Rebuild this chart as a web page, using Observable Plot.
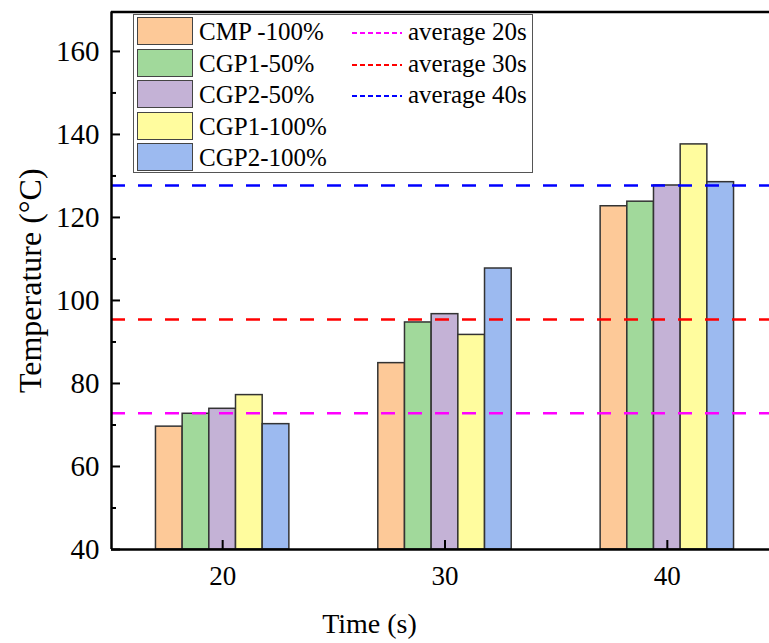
<!DOCTYPE html>
<html><head><meta charset="utf-8">
<script src="https://cdn.jsdelivr.net/npm/d3@7"></script>
<script src="https://cdn.jsdelivr.net/npm/@observablehq/plot@0.6"></script>
<style>
body{margin:0;background:#fff;overflow:hidden;}
#wrap{position:relative;width:769px;height:643px;font-family:Liberation Serif, Times New Roman, serif;}
#legend{position:absolute;left:133px;top:14px;width:400px;height:159px;border:1.5px solid #555;background:#fff;box-sizing:border-box;}
.lg{position:absolute;font-family:Liberation Serif, Times New Roman, serif;font-size:25px;line-height:28px;color:#000;white-space:nowrap;}
.sw{position:absolute;width:56px;height:28px;border:1.5px solid #444;box-sizing:border-box;}
</style>
</head><body>
<div id="wrap"><div id="chart"></div><div id="legend"></div></div>
<script>
const times = [20, 30, 40];
const seriesNames = ["CMP -100%", "CGP1-50%", "CGP2-50%", "CGP1-100%", "CGP2-100%"];
const seriesColors = ["#FDC998", "#A1D99B", "#C4B2D6", "#FFFC9E", "#9CBAF0"];
const cmp100 = [69.6, 84.9, 122.7];
const cgp1_50 = [72.7, 94.7, 123.8];
const cgp2_50 = [73.9, 96.7, 127.7];
const cgp1_100 = [77.2, 91.7, 137.6];
const cgp2_100 = [70.2, 107.7, 128.5];
const averageNames = ["average 20s", "average 30s", "average 40s"];
const averageValues = [72.8, 95.4, 127.7];
const averageColors = ["#FF00FF", "#FF0000", "#0000FF"];
const yMajorTicks = [40, 60, 80, 100, 120, 140, 160];
const yMinorTicks = [50, 70, 90, 110, 130, 150];
const xTicks = [20, 30, 40];
const xDomain = [15, 45];
const yDomain = [40, 169.5];
const xTitle = ["Time (s)"];
const yTitle = ["Temperature (°C)"];

const seriesValues = [cmp100, cgp1_50, cgp2_50, cgp1_100, cgp2_100];
const barWidth = 1.2;
const bars = [];
times.forEach((t, ti) => {
  seriesValues.forEach((vals, si) => {
    bars.push({time: t, series: seriesNames[si], color: seriesColors[si], value: vals[ti], idx: si});
  });
});
const avgs = averageValues.map((v, i) => ({value: v, color: averageColors[i], name: averageNames[i]}));

const font = "Liberation Serif, Times New Roman, serif";
const chart = Plot.plot({
  width: 769, height: 643,
  marginLeft: 111, marginRight: 0, marginTop: 11.5, marginBottom: 94,
  style: {fontFamily: font, background: "#fff", color: "#000"},
  x: {type: "linear", domain: xDomain, range: [111, 778]},
  y: {domain: yDomain},
  marks: [
    Plot.rectY(bars, {
      x1: d => d.time + (d.idx - 2.5) * barWidth,
      x2: d => d.time + (d.idx - 1.5) * barWidth,
      y1: yDomain[0], y2: "value",
      fill: d => d.color, stroke: "#333", strokeWidth: 1.5
    }),
    Plot.ruleY(avgs, {y: "value", stroke: d => d.color, strokeWidth: 2.5, strokeDasharray: "14,13"}),
    Plot.ruleX([xDomain[0]], {stroke: "#000", strokeWidth: 2.5}),
    Plot.ruleY(yDomain, {stroke: "#000", strokeWidth: 2.5}),
    Plot.axisY({ticks: yMajorTicks, tickSize: 0, tickPadding: 12, fontSize: 29, fontFamily: font, fill: "#000", label: null, tickFormat: d => String(d)}),
    Plot.axisY({ticks: yMajorTicks, tickSize: -9, text: null, strokeWidth: 2, label: null}),
    Plot.axisY({ticks: yMinorTicks, tickSize: -5, text: null, strokeWidth: 2, label: null}),
    Plot.axisX({ticks: xTicks, tickSize: 0, tickPadding: 16, fontSize: 27, fontFamily: font, fill: "#000", label: null, tickFormat: d => String(d)}),
    Plot.axisX({ticks: xTicks, tickSize: -9, text: null, strokeWidth: 2, label: null}),
    Plot.text(yTitle, {text: d => d, frameAnchor: "left", textAnchor: "middle", lineAnchor: "middle", dx: -81, rotate: -90, fontSize: 32, fontFamily: font, fill: "#000"}),
    Plot.text(xTitle, {text: d => d, frameAnchor: "bottom", textAnchor: "middle", lineAnchor: "middle", dx: -71, dy: 75, fontSize: 28, fontFamily: font, fill: "#000"})
  ]
});
document.getElementById("chart").appendChild(chart);

const legend = document.getElementById("legend");
seriesNames.forEach((name, i) => {
  const top = 2 + i * 31.5;
  const sw = document.createElement("div");
  sw.className = "sw";
  sw.style.left = "3px"; sw.style.top = top + "px"; sw.style.background = seriesColors[i];
  legend.appendChild(sw);
  const tx = document.createElement("div");
  tx.className = "lg";
  tx.style.left = "65px"; tx.style.top = (top + 1) + "px";
  tx.textContent = name;
  legend.appendChild(tx);
});
averageNames.forEach((name, i) => {
  const cy = 18 + i * 31.5;
  const svg = document.createElementNS("http://www.w3.org/2000/svg", "svg");
  svg.setAttribute("width", 50); svg.setAttribute("height", 6);
  svg.style.position = "absolute"; svg.style.left = "218px"; svg.style.top = (cy - 3) + "px";
  const ln = document.createElementNS("http://www.w3.org/2000/svg", "line");
  ln.setAttribute("x1", 0); ln.setAttribute("x2", 50); ln.setAttribute("y1", 3); ln.setAttribute("y2", 3);
  ln.setAttribute("stroke", averageColors[i]); ln.setAttribute("stroke-width", 2);
  ln.setAttribute("stroke-dasharray", "5,3");
  svg.appendChild(ln);
  legend.appendChild(svg);
  const tx = document.createElement("div");
  tx.className = "lg";
  tx.style.left = "274px"; tx.style.top = (cy - 15) + "px";
  tx.textContent = name;
  legend.appendChild(tx);
});
</script>
</body></html>
